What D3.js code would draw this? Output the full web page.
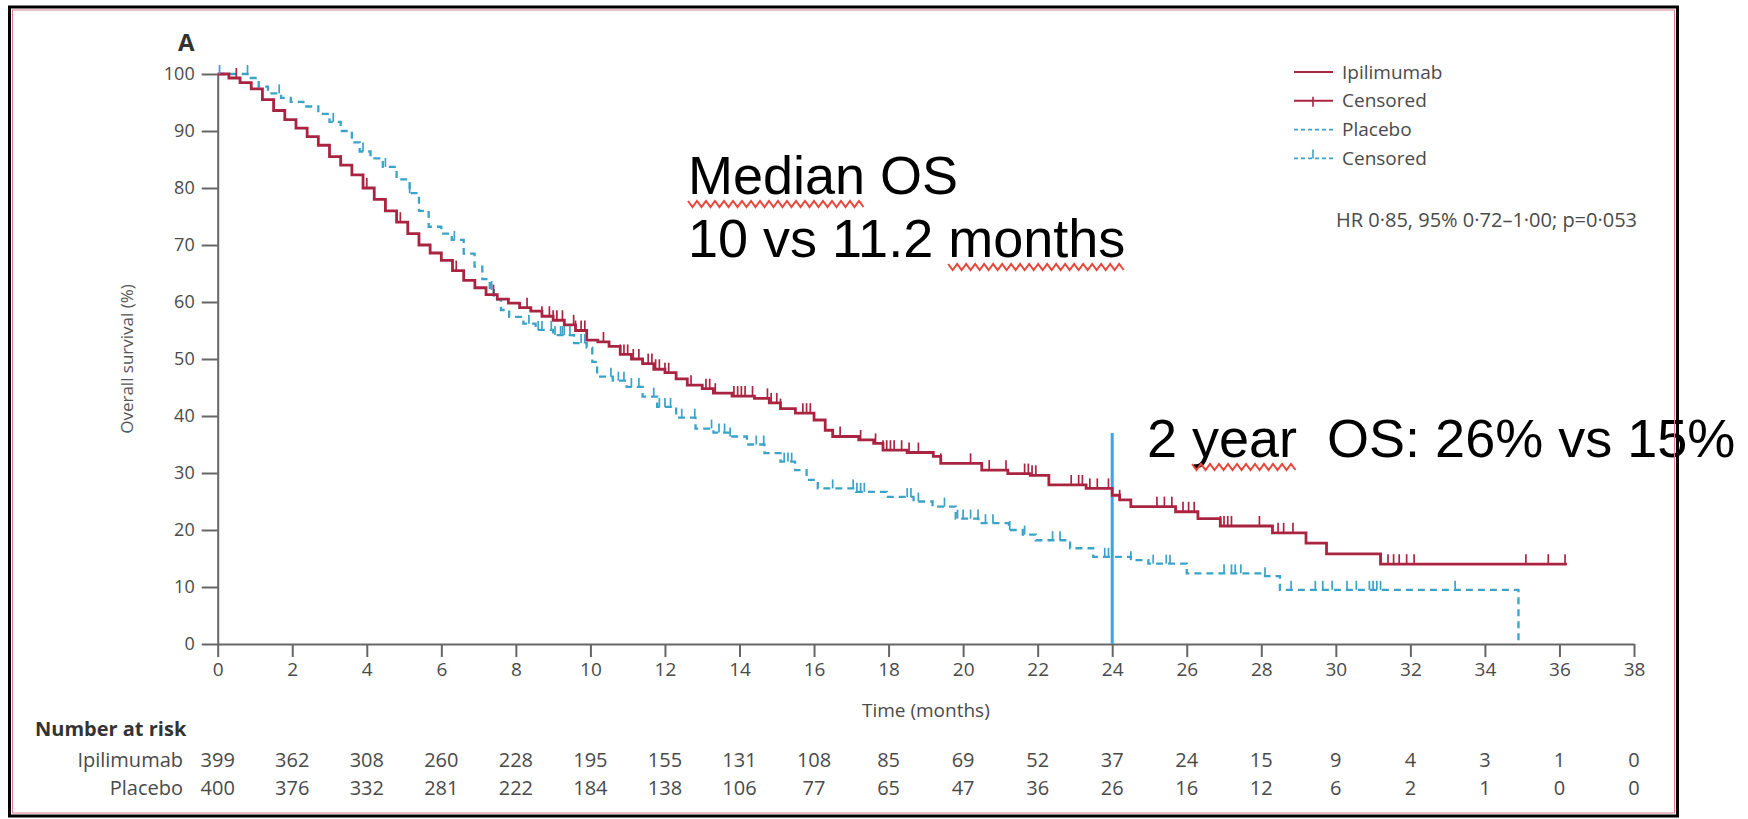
<!DOCTYPE html>
<html>
<head>
<meta charset="utf-8">
<script src="https://cdn.jsdelivr.net/npm/d3@7"></script>
<style>
  body { margin: 0; background: #fff; }
  svg { display: block; font-family: 'Open Sans', sans-serif; }
  .axis path, .axis line { stroke: #666; stroke-width: 2; }
  .axis text { fill: #4a4a4a; }
</style>
</head>
<body>
<div class="canvas"></div>
<script>
// survival curves: [months, % alive]
const ipiCurve = [
  [0, 100], [0.3, 99.3], [0.6, 98.5], [0.9, 97.4], [1.2, 95.5], [1.5, 93.6], [1.8, 92], [2.1, 90.5],
  [2.4, 89], [2.7, 87.5], [3.0, 85.5], [3.3, 84], [3.6, 82.3], [3.9, 80], [4.2, 78], [4.5, 76],
  [4.8, 74], [5.1, 72], [5.4, 70], [5.7, 68.6], [6.0, 67.3], [6.3, 65.5], [6.6, 63.8], [6.9, 62.5],
  [7.2, 61.3], [7.5, 60.5], [7.8, 59.8], [8.1, 59], [8.4, 58.4], [8.7, 57.5], [9.0, 56.8], [9.3, 56],
  [9.6, 55], [9.9, 53.3], [10.2, 53], [10.5, 52.2], [10.8, 50.8], [11.1, 50], [11.4, 49.2], [11.7, 48.2],
  [12.0, 47.6], [12.3, 46.5], [12.6, 45.4], [13.0, 44.8], [13.3, 44.0], [13.8, 43.5], [14.4, 43.1],
  [14.8, 42.3], [15.1, 41.3], [15.5, 40.5], [16.0, 39.3], [16.3, 37.5], [16.5, 36.4], [17.2, 35.8],
  [17.6, 35.2], [17.85, 34.0], [18.5, 33.6], [19.2, 32.9], [19.4, 31.7], [20.5, 30.5], [21.2, 29.9],
  [21.8, 29.6], [22.3, 27.9], [23.3, 27.3], [24.0, 26.1], [24.2, 25.3], [24.5, 24.1], [25.7, 23.2],
  [26.3, 22.0], [26.9, 20.7], [28.3, 19.5], [29.2, 17.7], [29.75, 15.8], [31.2, 14.0], [36.2, 14.0]
];
const placeboCurve = [
  [0, 100], [0.85, 99.3], [1.1, 97.8], [1.35, 96.6], [1.7, 95.8], [1.96, 95.1], [2.3, 94.3], [2.7, 93],
  [3.0, 91.6], [3.3, 90], [3.6, 88], [3.81, 86.4], [4.1, 85.2], [4.43, 83.7], [4.8, 81.5], [5.15, 79.1],
  [5.4, 76], [5.66, 73.2], [6.0, 72], [6.28, 70.9], [6.6, 68.5], [6.89, 66.2], [7.1, 64], [7.3, 62.1],
  [7.41, 60.4], [7.6, 58.6], [7.82, 57.4], [8.2, 56.2], [8.53, 55.1], [9.0, 54.2], [9.56, 52.8],
  [9.9, 52], [10.05, 49.5], [10.18, 46.9], [10.6, 46.2], [10.97, 45.1], [11.4, 43.4], [11.79, 41.6],
  [12.3, 39.7], [12.82, 37.8], [13.3, 37.1], [13.74, 36.4], [14.2, 35], [14.67, 33.5], [15.1, 32],
  [15.49, 30.5], [15.8, 28.8], [16.1, 27.3], [17.13, 26.7], [17.95, 25.8], [18.67, 25.0], [19.18, 24.1],
  [19.8, 22.0], [20.41, 21.2], [21.23, 20.0], [21.6, 19.2], [21.95, 18.2], [22.87, 16.8], [23.49, 15.3],
  [24.5, 14.7], [24.97, 14.1], [26.0, 12.4], [28.1, 11.9], [28.5, 9.5], [34.9, 9.5], [34.9, 0]
];

// censoring times (months)
const ipiCensored = [
  0.5, 3.3, 4.0, 4.9, 5.4, 6.4, 7.4, 8.3, 8.7, 8.9, 9.0, 9.1, 9.25, 9.55, 9.6, 9.75, 9.85, 10.35,
  10.8, 10.9, 11.0, 11.15, 11.3, 11.55, 11.65, 11.75, 11.85, 12.0, 12.1, 12.7, 13.1, 13.2, 13.35,
  13.85, 13.95, 14.05, 14.15, 14.35, 14.75, 14.85, 15.0, 15.1, 15.7, 15.8, 15.9, 16.7, 17.25, 17.65,
  17.85, 17.95, 18.05, 18.15, 18.35, 18.55, 18.8, 19.4, 20.2, 20.7, 21.15, 21.65, 21.75, 21.85, 21.95,
  22.9, 23.1, 23.2, 23.4, 23.6, 23.9, 24.2, 25.2, 25.4, 25.6, 25.9, 26.05, 26.2, 26.9, 27.0, 27.1,
  27.2, 27.95, 28.45, 28.6, 28.85, 31.2, 31.4, 31.55, 31.7, 31.9, 32.1, 35.1, 35.7, 36.15
];
const placeboCensored = [
  0.05, 0.8, 1.65, 3.1, 3.9, 4.5, 5.15, 6.35, 7.35, 8.35, 8.6, 8.7, 8.95, 9.05, 9.2, 9.25, 9.3, 9.45,
  9.75, 9.85, 10.55, 10.75, 10.9, 11.1, 11.3, 11.7, 11.85, 12.0, 12.15, 12.45, 12.8, 13.25, 13.45,
  13.6, 13.75, 14.45, 14.65, 15.2, 15.3, 15.4, 16.5, 17.05, 17.15, 17.25, 17.35, 18.5, 18.6, 18.8,
  19.5, 19.85, 20.0, 20.2, 20.4, 20.6, 20.8, 21.25, 21.65, 22.4, 22.6, 23.8, 23.9, 24.0, 24.5, 25.1,
  25.45, 25.55, 27.0, 27.2, 27.3, 27.45, 28.1, 28.8, 29.45, 29.65, 29.9, 30.3, 30.55, 30.9, 31.0,
  31.1, 31.2, 33.2
];

const xTicks = [0, 2, 4, 6, 8, 10, 12, 14, 16, 18, 20, 22, 24, 26, 28, 30, 32, 34, 36, 38];
const yTicks = [0, 10, 20, 30, 40, 50, 60, 70, 80, 90, 100];

// number at risk, one per x tick
const ipiAtRisk = [399, 362, 308, 260, 228, 195, 155, 131, 108, 85, 69, 52, 37, 24, 15, 9, 4, 3, 1, 0];
const placeboAtRisk = [400, 376, 332, 281, 222, 184, 138, 106, 77, 65, 47, 36, 26, 16, 12, 6, 2, 1, 0, 0];

const legendItems = ['Ipilimumab', 'Censored', 'Placebo', 'Censored'];
const twoYearMark = [24, 37]; // annotation line: month, top %

const ipiColor = '#aa2442';
const placeboColor = '#3aa3c9';

const width = 1748;
const height = 819;

const svg = d3
  .select('.canvas')
  .append('svg')
  .attr('width', width)
  .attr('height', height);

svg.append('rect').attr('width', width).attr('height', height).attr('fill', '#fff');

// scales
const x = d3.scaleLinear().domain([0, 38]).range([217.7, 1634]);
const y = d3.scaleLinear().domain([0, 100]).range([644, 74]);

// axes
const xAxisGroup = svg
  .append('g')
  .attr('class', 'axis')
  .attr('transform', `translate(0, ${y(0)})`)
  .call(d3.axisBottom(x).tickValues(xTicks).tickSize(13).tickSizeOuter(0).tickPadding(6));
xAxisGroup.selectAll('text').attr('font-size', 19).attr('font-family', 'Open Sans');

const yAxisGroup = svg
  .append('g')
  .attr('class', 'axis')
  .attr('transform', `translate(${x(0)}, 0)`)
  .call(d3.axisLeft(y).tickValues(yTicks).tickSize(16).tickSizeOuter(0).tickPadding(7));
yAxisGroup.selectAll('text').attr('font-size', 18).attr('font-family', 'Open Sans');

svg
  .append('text')
  .attr('transform', `translate(128, ${y(50)}) rotate(-90)`)
  .attr('text-anchor', 'middle')
  .attr('dominant-baseline', 'middle')
  .attr('font-size', 17)
  .attr('fill', '#555')
  .text('Overall survival (%)');

svg
  .append('text')
  .attr('x', x(19))
  .attr('y', 717)
  .attr('text-anchor', 'middle')
  .attr('font-size', 19)
  .attr('fill', '#4a4a4a')
  .text('Time (months)');

svg
  .append('text')
  .attr('x', 178)
  .attr('y', 51)
  .attr('font-size', 24)
  .attr('font-weight', 'bold')
  .attr('fill', '#333')
  .text('A');

// 2-year marker line
svg
  .append('line')
  .attr('x1', x(twoYearMark[0]))
  .attr('x2', x(twoYearMark[0]))
  .attr('y1', y(twoYearMark[1]))
  .attr('y2', y(0))
  .attr('stroke', '#3aa5e6')
  .attr('stroke-width', 3);

// km step lines
const line = d3
  .line()
  .curve(d3.curveStepAfter)
  .x(d => x(d[0]))
  .y(d => y(d[1]));

svg
  .append('path')
  .datum(placeboCurve)
  .attr('fill', 'none')
  .attr('stroke', placeboColor)
  .attr('stroke-width', 2.3)
  .attr('stroke-dasharray', '7,5')
  .attr('d', line);

svg
  .append('path')
  .datum(ipiCurve)
  .attr('fill', 'none')
  .attr('stroke', ipiColor)
  .attr('stroke-width', 2.8)
  .attr('d', line);

// censor marks sit on the curve at that time
const bisect = d3.bisector(d => d[0]).right;
const survAt = (curve, t) => curve[Math.max(0, bisect(curve, t) - 1)][1];

svg
  .append('g')
  .selectAll('line')
  .data(placeboCensored)
  .enter()
  .append('line')
  .attr('x1', d => x(d))
  .attr('x2', d => x(d))
  .attr('y1', d => y(survAt(placeboCurve, d)))
  .attr('y2', d => y(survAt(placeboCurve, d)) - 9)
  .attr('stroke', placeboColor)
  .attr('stroke-width', 1.7);

svg
  .append('g')
  .selectAll('line')
  .data(ipiCensored)
  .enter()
  .append('line')
  .attr('x1', d => x(d))
  .attr('x2', d => x(d))
  .attr('y1', d => y(survAt(ipiCurve, d)))
  .attr('y2', d => y(survAt(ipiCurve, d)) - 10)
  .attr('stroke', ipiColor)
  .attr('stroke-width', 1.7);

// legend
const legend = svg.append('g').attr('transform', 'translate(1294, 72)');
legendItems.forEach((label, i) => {
  const row = legend.append('g').attr('transform', `translate(0, ${i * 28.8})`);
  const isIpi = i < 2;
  const col = isIpi ? ipiColor : placeboColor;
  row
    .append('line')
    .attr('x1', 0)
    .attr('x2', 39)
    .attr('stroke', col)
    .attr('stroke-width', isIpi ? 2 : 1.8)
    .attr('stroke-dasharray', isIpi ? null : '4,3');
  if (i === 1) {
    row.append('line').attr('x1', 19).attr('x2', 19).attr('y1', -4).attr('y2', 6).attr('stroke', col).attr('stroke-width', 1.6);
  }
  if (i === 3) {
    row.append('line').attr('x1', 19).attr('x2', 19).attr('y1', 0).attr('y2', -9).attr('stroke', col).attr('stroke-width', 1.6);
  }
  row
    .append('text')
    .attr('x', 48)
    .attr('dy', '0.35em')
    .attr('font-size', 19)
    .attr('fill', '#4a4a4a')
    .text(label);
});

svg
  .append('text')
  .attr('x', 1336)
  .attr('y', 227)
  .attr('font-size', 20)
  .attr('fill', '#4a4a4a')
  .text('HR 0·85, 95% 0·72–1·00; p=0·053');

// number at risk table
svg
  .append('text')
  .attr('x', 35)
  .attr('y', 736)
  .attr('font-size', 20)
  .attr('font-weight', 'bold')
  .attr('fill', '#333')
  .text('Number at risk');

const riskRows = [
  { name: 'Ipilimumab', values: ipiAtRisk, yPos: 767 },
  { name: 'Placebo', values: placeboAtRisk, yPos: 795 }
];
riskRows.forEach(r => {
  svg
    .append('text')
    .attr('x', 183)
    .attr('y', r.yPos)
    .attr('text-anchor', 'end')
    .attr('font-size', 20)
    .attr('fill', '#4a4a4a')
    .text(r.name);
  svg
    .append('g')
    .selectAll('text')
    .data(r.values)
    .enter()
    .append('text')
    .attr('x', (d, i) => x(xTicks[i]))
    .attr('y', r.yPos)
    .attr('text-anchor', 'middle')
    .attr('font-size', 20)
    .attr('fill', '#4a4a4a')
    .text(d => d);
});

// slide annotations with spell-check squiggles
const wave = (x0, x1, yy) => {
  const pts = [];
  let i = 0;
  for (let xx = x0; xx <= x1; xx += 4.5) {
    pts.push([xx, yy + (i % 2 ? 3 : -3)]);
    i++;
  }
  return d3.line()(pts);
};

const noteFont = "'Liberation Sans', Arial, sans-serif";
const addNote = (txt, tx, ty, squiggleFrom, squiggleLen) => {
  const t = svg
    .append('text')
    .attr('x', tx)
    .attr('y', ty)
    .attr('font-family', noteFont)
    .attr('font-size', 54)
    .attr('fill', '#000')
    .style('white-space', 'pre')
    .text(txt);
  const n = t.node();
  const sx = n.getStartPositionOfChar(squiggleFrom).x;
  const ex = n.getEndPositionOfChar(squiggleFrom + squiggleLen - 1).x;
  svg
    .append('path')
    .attr('d', wave(sx, ex, ty + 10))
    .attr('fill', 'none')
    .attr('stroke', '#e8483c')
    .attr('stroke-width', 2);
};

addNote('Median OS', 688, 194, 0, 6);
addNote('10 vs 11.2 months', 688, 257, 11, 6);
addNote('2 year  OS: 26% vs 15%', 1147, 457, 2, 4);

// slide frame
svg
  .append('rect')
  .attr('x', 9.5)
  .attr('y', 7)
  .attr('width', 1668)
  .attr('height', 809)
  .attr('fill', 'none')
  .attr('stroke', '#000')
  .attr('stroke-width', 3);
svg
  .append('rect')
  .attr('x', 12.5)
  .attr('y', 10)
  .attr('width', 1662)
  .attr('height', 803)
  .attr('fill', 'none')
  .attr('stroke', '#e27a90')
  .attr('stroke-width', 1);
</script>
</body>
</html>
